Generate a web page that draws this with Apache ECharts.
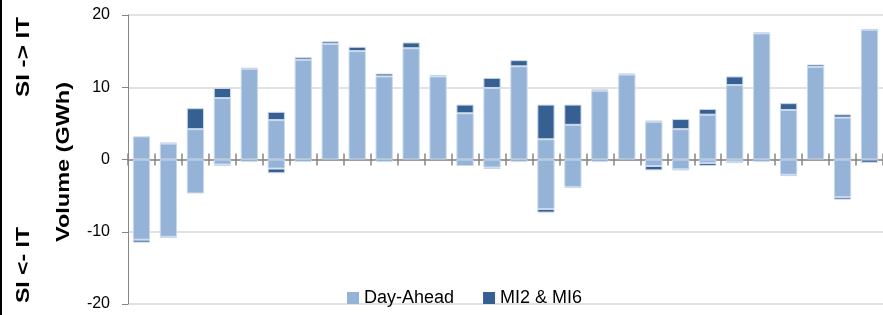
<!DOCTYPE html>
<html>
<head>
<meta charset="utf-8">
<script src="https://cdn.jsdelivr.net/npm/echarts@6/dist/echarts.min.js"></script>
<style>
html,body{margin:0;padding:0;background:#fff;}
#chart{width:883px;height:315px;}
</style>
</head>
<body>
<div id="chart"></div>
<script>
var categories = ['1','2','3','4','5','6','7','8','9','10','11','12','13','14','15','16','17','18','19','20','21','22','23','24','25','26','27','28'];
var dayAheadPos = [3.2, 2.2, 4.2, 8.5, 12.55, 5.45, 13.8, 16.0, 15.0, 11.5, 15.4, 11.5, 6.4, 9.9, 12.9, 2.8, 4.8, 9.5, 11.75, 5.2, 4.2, 6.2, 10.3, 17.45, 6.85, 12.8, 5.8, 17.95];
var miPos = [0, 0.15, 2.9, 1.4, 0.15, 1.15, 0.35, 0.35, 0.6, 0.4, 0.8, 0.2, 1.2, 1.4, 0.85, 4.8, 2.8, 0.2, 0.15, 0.2, 1.4, 0.8, 1.2, 0.15, 0.95, 0.35, 0.45, 0.1];
var dayAheadNeg = [-11.1, -10.7, -4.7, -0.7, 0, -1.25, 0, 0, 0, 0, 0, 0, -0.9, -1.1, 0, -6.85, -3.8, 0, 0, -0.9, -1.35, -0.5, -0.35, 0, -2.1, 0, -5.2, 0];
var miNeg = [-0.4, -0.15, 0, -0.2, -0.3, -0.65, -0.3, 0, 0, -0.3, 0, 0, 0, -0.2, -0.3, -0.5, -0.15, -0.3, 0, -0.6, -0.15, -0.4, -0.15, -0.3, -0.2, 0, -0.35, -0.45];
var yTicks = [-20, -10, 0, 10, 20];

var colDA = '#95b3d7';
var colMI = '#376092';

function clean(arr){ return arr.map(function(v){ return v === 0 ? '-' : v; }); }

function barSeries(name, data, color){
  return {
    name: name, type: 'bar', stack: 'vol', data: clean(data),
    barWidth: '64%',
    itemStyle: { color: color, borderColor: '#c9d8ec', borderWidth: 1 },
    emphasis: { disabled: true },
    animation: false
  };
}

var TITLE_FONT = 'bold 18px "Liberation Sans"';
var measureCtx = document.createElement('canvas').getContext('2d');
function vText(txt, x, y, targetLen){
  measureCtx.font = TITLE_FONT;
  var w = measureCtx.measureText(txt).width || targetLen;
  return { type: 'text', x: x, y: y, rotation: Math.PI / 2, scaleX: targetLen / w, scaleY: 1,
    style: { text: txt, font: TITLE_FONT, fill: '#000', align: 'center', verticalAlign: 'middle' } };
}

var chart = echarts.init(document.getElementById('chart'), null, {renderer: 'canvas'});
chart.setOption({
  animation: false,
  grid: { left: 128, right: -5, top: 15, bottom: 11, containLabel: false },
  legend: {
    left: 342, top: 284,
    itemWidth: 12, itemHeight: 12, itemGap: 29,
    icon: 'rect',
    textStyle: { fontFamily: 'Liberation Sans', fontSize: 18, color: '#000' },
    itemStyle: { borderWidth: 0 },
    data: ['Day-Ahead', 'MI2 & MI6']
  },
  xAxis: [{
    type: 'category', data: categories, boundaryGap: true,
    axisLine: { onZero: true, lineStyle: { color: '#868686', width: 1.5 } },
    axisTick: { show: true, inside: false, length: 6, lineStyle: { color: '#868686', width: 1.5 } },
    axisLabel: { show: false },
    splitLine: { show: false }
  }, {
    type: 'category', data: categories, boundaryGap: true, position: 'bottom',
    axisLine: { show: false, onZero: true, onZeroAxisIndex: 0 },
    axisTick: { show: true, inside: true, length: 6, lineStyle: { color: '#868686', width: 1.5 } },
    axisLabel: { show: false },
    splitLine: { show: false }
  }],
  yAxis: {
    type: 'value', min: yTicks[0], max: yTicks[yTicks.length - 1], interval: 10,
    axisLine: { show: true, lineStyle: { color: '#868686', width: 1 } },
    axisTick: { show: true, length: 6, lineStyle: { color: '#868686' } },
    axisLabel: { fontFamily: 'Liberation Sans', fontSize: 16, color: '#000', margin: 18 },
    splitLine: { lineStyle: { color: '#d9d9d9', width: 1.5 } }
  },
  graphic: [
    { type: 'rect', left: 0, top: 0, shape: { width: 2, height: 315 }, style: { fill: '#000' } },
    vText('SI -> IT', 24, 57, 80),
    vText('SI <- IT', 24, 265, 76),
    vText('Volume (GWh)', 64, 162, 160)
  ],
  series: [
    barSeries('Day-Ahead', dayAheadPos, colDA),
    barSeries('MI2 & MI6', miPos, colMI),
    barSeries('Day-Ahead', dayAheadNeg, colDA),
    barSeries('MI2 & MI6', miNeg, colMI)
  ]
});
</script>
</body>
</html>
